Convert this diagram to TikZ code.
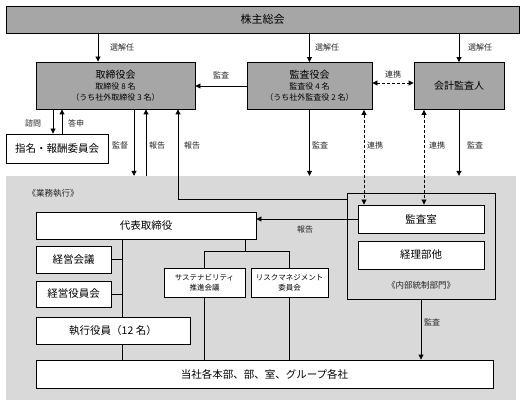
\documentclass[tikz,border=0pt]{standalone}
\usepackage{fontspec}
\setmainfont{Noto Sans CJK JP}
\usetikzlibrary{arrows.meta,calc}
\definecolor{dgray}{RGB}{166,166,166}
\definecolor{lgray}{RGB}{217,217,217}
\begin{document}
\begin{tikzpicture}[x=1pt,y=-1pt,
 box/.style={draw=black,line width=0.9pt,fill=white,inner sep=0pt,align=center,font=\fontsize{10.5}{12}\selectfont},
 dbox/.style={box,fill=dgray},
 gbox/.style={draw=black,line width=0.9pt,fill=lgray,inner sep=0pt},
 arr/.style={line width=0.9pt,-{Triangle[length=5pt,width=5pt]}},
 ln/.style={line width=0.9pt},
 darr/.style={line width=0.9pt,dash pattern=on 3pt off 2pt,{Triangle[length=5pt,width=5pt]}-{Triangle[length=5pt,width=5pt]}},
 lbl/.style={font=\fontsize{8}{9}\selectfont,text=black!85,inner sep=0pt},
 small/.style={font=\fontsize{7.5}{10}\selectfont},
]
\useasboundingbox (0,0) rectangle (525,406);
\fill[white] (0,0) rectangle (525,406);

% shaded execution area
\node[fill=lgray,inner sep=0pt,minimum width=510pt,minimum height=224pt] (area) at (261,288) {};

% top level
\node[dbox,minimum width=513pt,minimum height=27pt,font=\fontsize{11}{12}\selectfont] (kabu) at (262.5,19.5) {株主総会};
\node[dbox,minimum width=159pt,minimum height=47pt] (tori) at (115.5,85.5)
 {{\fontsize{10}{11}\selectfont 取締役会}\\[-1pt]{\fontsize{8}{10}\selectfont 取締役 8 名}\\[-1pt]{\fontsize{8}{10}\selectfont （うち社外取締役 3 名）}};
\node[dbox,minimum width=125pt,minimum height=47pt] (kansa) at (309.5,86)
 {{\fontsize{10}{11}\selectfont 監査役会}\\[-1pt]{\fontsize{8}{10}\selectfont 監査役 4 名}\\[-1pt]{\fontsize{8}{10}\selectfont （うち社外監査役 2 名）}};
\node[dbox,minimum width=90pt,minimum height=47pt,font=\fontsize{10}{12}\selectfont] (kaikei) at (459,86) {会計監査人};
\node[box,minimum width=102pt,minimum height=29pt,font=\fontsize{10.5}{12}\selectfont] (shimei) at (57,148.5) {指名・報酬委員会};

% execution area contents
\node[lbl,font=\fontsize{8.5}{10}\selectfont] (gyomu) at (53,193) {《業務執行》};
\node[box,minimum width=220pt,minimum height=27pt] (daihyo) at (146,225.5) {代表取締役};
\node[box,minimum width=75pt,minimum height=27pt] (keiei) at (73.5,259.5) {経営会議};
\node[box,minimum width=75pt,minimum height=26pt] (keieiy) at (73.5,294) {経営役員会};
\node[box,minimum width=154pt,minimum height=27pt] (shikko) at (113,330.5) {執行役員（12 名）};
\node[box,small,minimum width=81pt,minimum height=29pt] (sust) at (204.5,282.5) {サステナビリティ\\推進会議};
\node[box,small,minimum width=77pt,minimum height=29pt] (risk) at (289.5,282.5) {リスクマネジメント\\委員会};
\node[gbox,minimum width=148pt,minimum height=106pt] (naibu) at (421,246) {};
\node[box,minimum width=126pt,minimum height=28pt] (kshitsu) at (421,219) {監査室};
\node[box,minimum width=126pt,minimum height=28pt] (keiri) at (421,255) {経理部他};
\node[lbl,font=\fontsize{8.5}{10}\selectfont] (naibul) at (421,285) {《内部統制部門》};
\node[box,minimum width=457pt,minimum height=28pt] (tosha) at (264.5,374) {当社各本部、部、室、グループ各社};

% x positions
\coordinate (xa) at (98,0);
\coordinate (xs1) at (53,0);
\coordinate (xs2) at (62,0);
\coordinate (xk) at (134,0);
\coordinate (xh1) at (146,0);
\coordinate (xh2) at (178,199);
\coordinate (xr1) at (364,0);
\coordinate (xr2) at (424,0);
\coordinate (xt) at (122,0);
\coordinate (br) at (245,251);

% election arrows
\draw[arr] (kabu.south -| xa) -- (tori.north -| xa);
\draw[arr] (kabu.south -| kansa.north) -- (kansa.north);
\draw[arr] (kabu.south -| kaikei.north) -- (kaikei.north);
\node[lbl] (l1) at (122,47) {選解任};
\node[lbl] (l2) at (327,47) {選解任};
\node[lbl] (l3) at (480,47) {選解任};

% audit board -> board
\draw[arr] (kansa.west) -- (kansa.west -| tori.east);
\node[lbl] (l4) at (221,75) {監査};
\draw[darr] (kansa.east |- 0,83) -- (kaikei.west |- 0,83);
\node[lbl] (l5) at (393,74) {連携};

% nomination committee
\draw[arr] (tori.south -| xs1) -- (shimei.north -| xs1);
\draw[arr] (shimei.north -| xs2) -- (tori.south -| xs2);
\node[lbl] (l6) at (33,123) {諮問};
\node[lbl] (l7) at (76,123) {答申};

% board <-> execution
\draw[arr] (tori.south -| xk) -- (area.north -| xk);
\draw[arr] (area.north -| xh1) -- (tori.south -| xh1);
\draw[arr] (naibu.west |- xh2) -- (xh2) -- (tori.south -| xh2);
\node[lbl] (l8) at (120,145) {監督};
\node[lbl] (l9) at (157,145) {報告};
\node[lbl] (l10) at (192,145) {報告};

% audit bodies -> execution
\draw[arr] (kansa.south) -- (area.north -| kansa.south);
\draw[arr] (kaikei.south) -- (area.north -| kaikei.south);
\draw[darr] (kansa.south -| xr1) -- (kshitsu.north -| xr1);
\draw[darr] (kaikei.south -| xr2) -- (kshitsu.north -| xr2);
\node[lbl] (l11) at (320,145) {監査};
\node[lbl] (l12) at (375,145) {連携};
\node[lbl] (l13) at (437,145) {連携};
\node[lbl] (l14) at (475,145) {監査};

% audit office report
\draw[arr] (kshitsu.west) -- (kshitsu.west -| daihyo.east);
\node[lbl] (l15) at (305,229) {報告};

% execution tree
\draw[ln] (daihyo.south -| xt) -- (shikko.north -| xt);
\draw[ln] (shikko.south -| xt) -- (tosha.north -| xt);
\draw[ln] (keiei.east) -- (keiei.east -| xt);
\draw[ln] (keieiy.east) -- (keieiy.east -| xt);
\draw[ln] (daihyo.south -| br) -- (br);
\draw[ln] (sust.north) -- (sust.north |- br) -- (risk.north |- br) -- (risk.north);
\draw[ln] (sust.south) -- (tosha.north -| sust.south);
\draw[ln] (risk.south) -- (tosha.north -| risk.south);

% internal control audit
\draw[arr] (naibu.south) -- (tosha.north -| naibu.south);
\node[lbl] (l16) at (432,322) {監査};
\end{tikzpicture}
\end{document}
